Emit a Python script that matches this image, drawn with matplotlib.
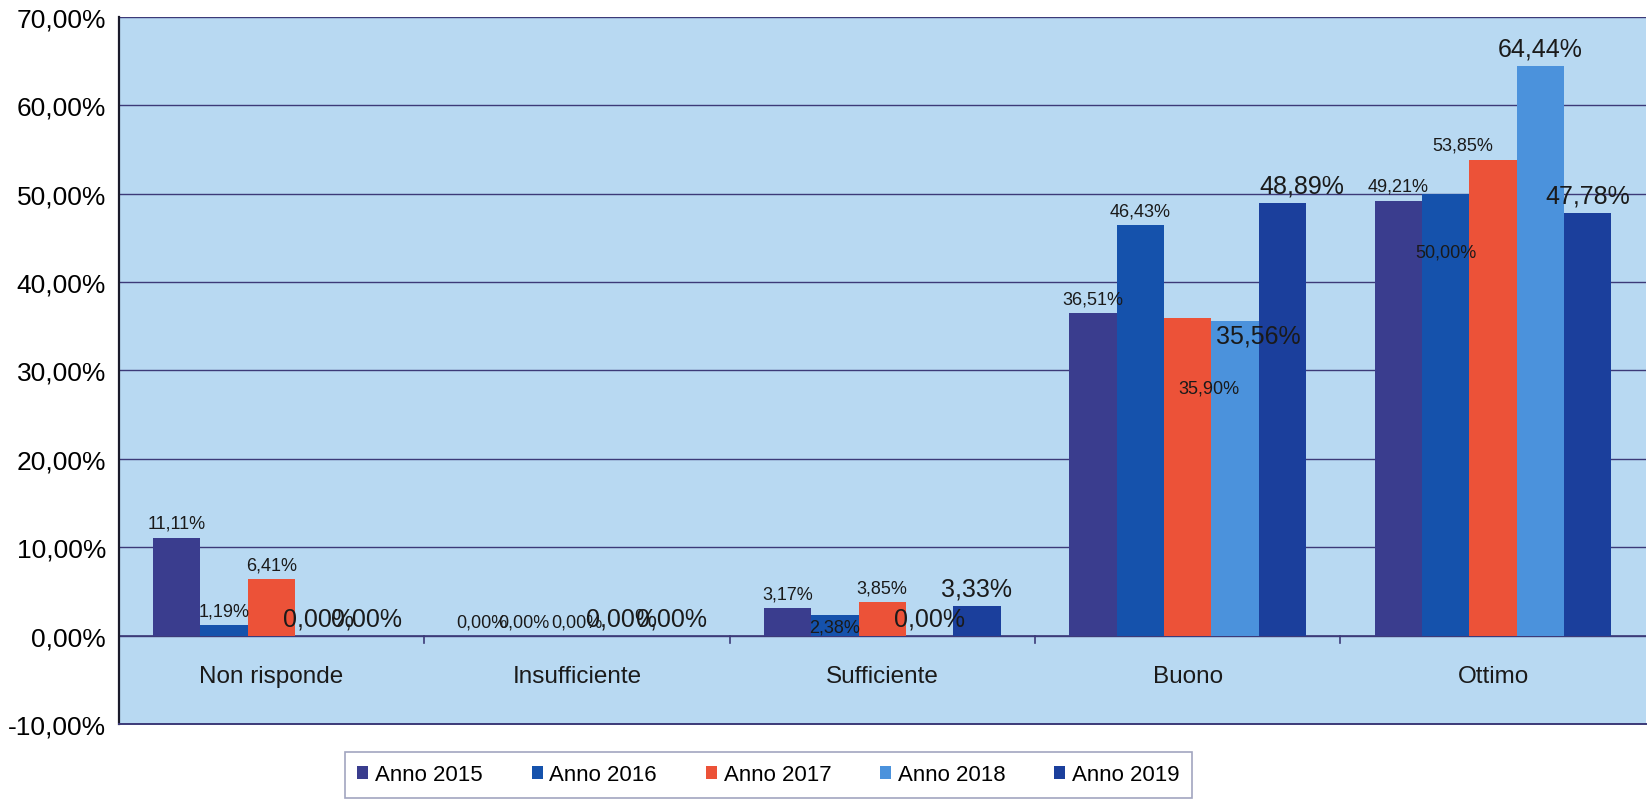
import numpy as np
import matplotlib
matplotlib.use('Agg')
import matplotlib.pyplot as plt
from matplotlib.ticker import FuncFormatter

plt.rcParams['font.family'] = ['Liberation Sans', 'DejaVu Sans']

# data
categories = ['Non risponde', 'Insufficiente', 'Sufficiente', 'Buono', 'Ottimo']
years = ['Anno 2015', 'Anno 2016', 'Anno 2017', 'Anno 2018', 'Anno 2019']
anno_2015 = [11.11, 0.00, 3.17, 36.51, 49.21]
anno_2016 = [1.19, 0.00, 2.38, 46.43, 50.00]
anno_2017 = [6.41, 0.00, 3.85, 35.90, 53.85]
anno_2018 = [0.00, 0.00, 0.00, 35.56, 64.44]
anno_2019 = [0.00, 0.00, 3.33, 48.89, 47.78]
series = [anno_2015, anno_2016, anno_2017, anno_2018, anno_2019]

colors = ['#3a3d8e', '#1552ac', '#ec5238', '#4b92dc', '#1b3f9c']
label_sizes = [13, 13, 13, 18, 18]
# label nudges (points) to mimic the messy placement in the original
nudge = {(1, 2): (0, -19), (2, 3): (15, -60), (3, 3): (17, -23), (4, 3): (14, 0),
         (1, 4): (0, -52), (2, 4): (-22, 0), (1, 1): (-4, 0), (3, 1): (-2, 0)}

fig = plt.figure(figsize=(16.49, 8.04), dpi=100)
ax = fig.add_axes([0.072, 0.098, 0.926, 0.88])
ax.set_facecolor('#b8d9f2')

x = np.arange(len(categories))
w = 0.155
for i, vals in enumerate(series):
    pos = x + (i - 2) * w
    ax.bar(pos, vals, width=w, color=colors[i], label=years[i], zorder=3)
    for j, v in enumerate(vals):
        dx, dy = nudge.get((i, j), (0, 0))
        ax.annotate(f'{v:.2f}%'.replace('.', ','), (pos[j], v),
                    xytext=(dx, 4 + dy), textcoords='offset points',
                    ha='center', va='bottom', fontsize=label_sizes[i],
                    color='#1a1a1a', zorder=4)

ax.set_ylim(-10, 70)
ax.set_xlim(-0.5, len(categories) - 0.5)
ax.set_yticks(np.arange(-10, 71, 10))
ax.yaxis.set_major_formatter(FuncFormatter(lambda v, p: f'{v:.2f}%'.replace('.', ',')))
ax.tick_params(axis='y', labelsize=19, length=0, pad=9)
ax.grid(axis='y', color='#3c3a78', linewidth=1.0, zorder=1)

# category axis sits on the zero line
ax.axhline(0, color='#3c3a78', linewidth=1.2, zorder=2)
ax.set_xticks([])
for j, c in enumerate(categories):
    ax.text(x[j], -4.6, c, ha='center', va='center', fontsize=17.5, color='#1a1a1a')
for b in np.arange(0.5, len(categories) - 0.5, 1):
    ax.plot([b, b], [0, -0.8], color='#3c3a78', linewidth=1.2, zorder=2)

for s in ['top', 'right']:
    ax.spines[s].set_visible(False)
ax.spines['left'].set_color('#1a1a2a')
ax.spines['left'].set_linewidth(1.6)
ax.spines['bottom'].set_color('#3c3a78')
ax.spines['bottom'].set_linewidth(1.4)

leg = fig.legend(loc='center', bbox_to_anchor=(0.466, 0.035), ncol=5, fontsize=16,
                 frameon=True, fancybox=False, edgecolor='#8a8fb0', handlelength=0.5,
                 handleheight=0.5, handletextpad=0.3, columnspacing=2.2,
                 borderpad=0.55, borderaxespad=0)
leg.get_frame().set_linewidth(1.2)

fig.savefig('out.png', dpi=100, facecolor='white')
